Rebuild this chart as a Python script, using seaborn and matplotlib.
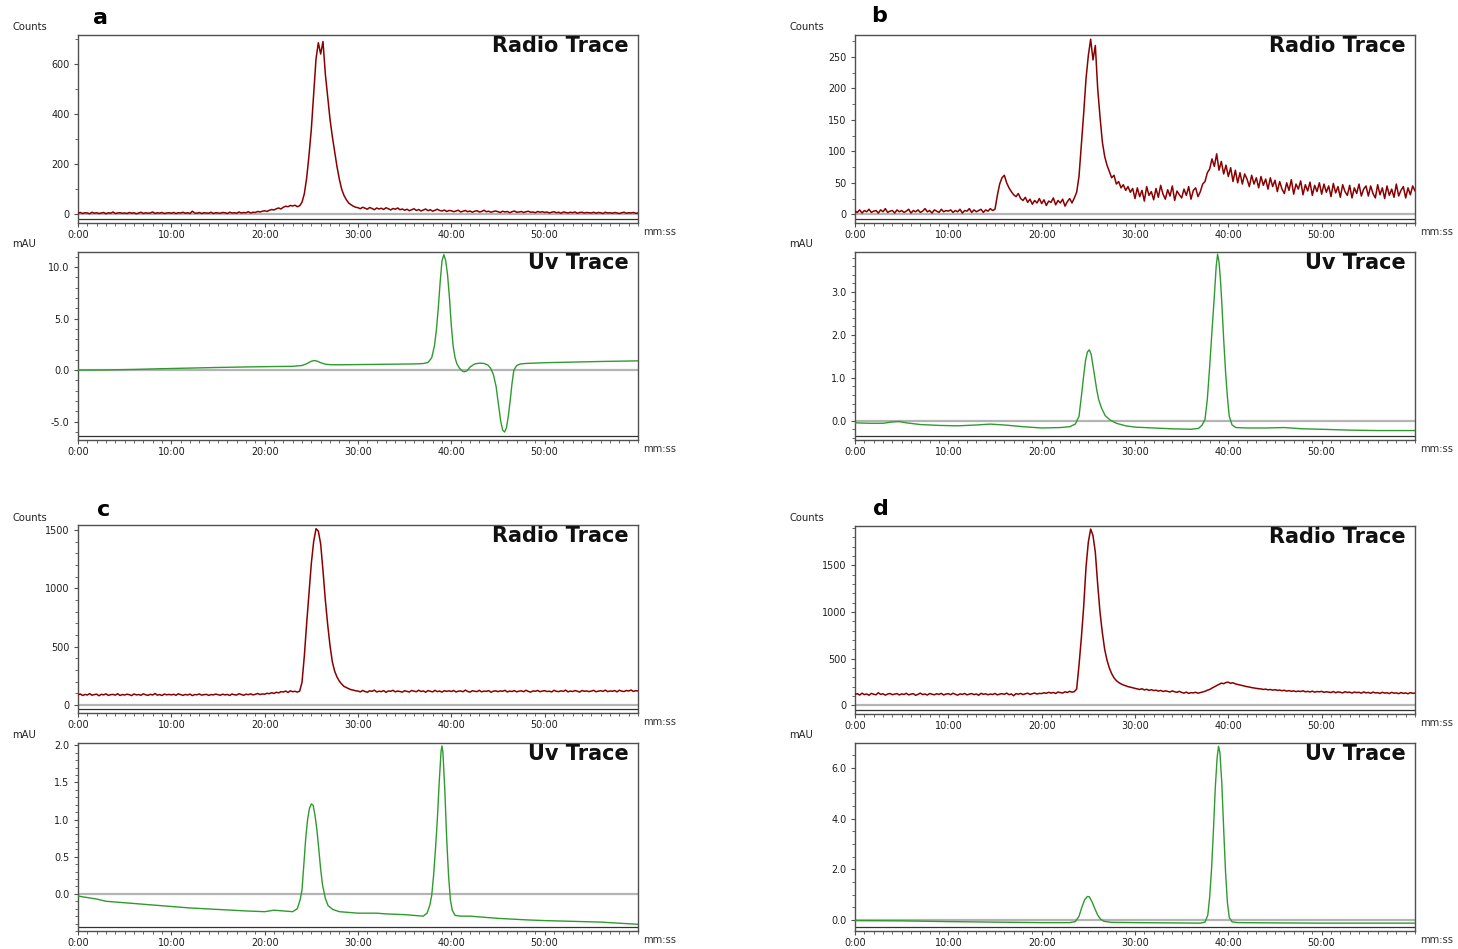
import numpy as np
import pandas as pd
import matplotlib
matplotlib.use("Agg")
import matplotlib.pyplot as plt
from matplotlib.ticker import MultipleLocator
import seaborn as sns

# ---------------------------------------------------------------------------
# Radio detector traces (counts), sampled every 0.25 min from 0:00 to 60:00
# ---------------------------------------------------------------------------
RADIO_STEP_MIN = 0.25

RADIO_A = [
    4, 7, 3, 6, 5, 2, 8, 4, 6, 3, 5, 7, 2, 6, 4, 9, 3, 5, 6, 4,
    5, 3, 7, 4, 6, 2, 5, 8, 3, 6, 4, 5, 9, 3, 6, 4, 7, 3, 5, 6,
    4, 7, 3, 6, 5, 8, 4, 6, 3, 12, 5, 4, 7, 3, 6, 5, 4, 8, 3, 6,
    5, 4, 7, 6, 3, 8, 5, 6, 4, 9, 5, 7, 6, 10, 5, 8, 7, 11, 9, 12,
    14, 11, 16, 19, 17, 22, 25, 21, 28, 32, 30, 35, 33, 36, 30, 34, 48, 82, 145, 235,
    340, 480, 620, 685, 640, 690, 560, 470, 380, 310, 250, 190, 140, 100, 75, 58, 45, 38, 32, 28,
    26, 22, 28, 24, 20, 27, 23, 18, 25, 21, 24, 19, 26, 22, 17, 23, 20, 25, 18, 21,
    16, 20, 14, 18, 22, 15, 19, 13, 17, 21, 14, 18, 12, 16, 20, 15, 13, 17, 11, 15,
    14, 10, 13, 16, 9, 12, 15, 10, 13, 8, 12, 14, 9, 11, 16, 10, 12, 8, 11, 13,
    10, 7, 12, 9, 11, 6, 10, 13, 8, 9, 11, 7, 10, 12, 8, 9, 6, 11, 8, 10,
    7, 9, 5, 8, 10, 6, 8, 4, 9, 7, 5, 8, 6, 9, 4, 7, 8, 5, 7, 6,
    5, 8, 4, 7, 6, 3, 8, 5, 6, 4, 7, 5, 3, 6, 8, 4, 6, 5, 7, 4,
    5,
]

RADIO_B = [
    5, 3, 7, 2, 6, 4, 8, 3, 5, 6, 2, 7, 4, 9, 3, 5, 6, 2, 7, 4,
    6, 3, 5, 8, 2, 6, 4, 7, 3, 5, 9, 4, 6, 2, 7, 5, 3, 8, 4, 6,
    5, 7, 3, 6, 4, 8, 2, 6, 5, 9, 3, 7, 4, 6, 8, 3, 7, 5, 9, 6,
    8, 30, 48, 58, 62, 50, 42, 36, 31, 28, 33, 25, 22, 27, 19, 24, 16, 22, 18, 25,
    17, 23, 14, 21, 19, 26, 15, 22, 18, 24, 13, 20, 25, 18, 26, 35, 60, 110, 160, 215,
    252, 278, 245, 268, 200, 155, 115, 92, 78, 68, 58, 62, 48, 52, 42, 47, 38, 44, 35, 41,
    25, 42, 28, 38, 21, 44, 30, 36, 23, 41, 27, 46, 32, 24, 39, 29, 45, 22, 37, 31,
    26, 40, 30, 44, 24, 38, 42, 28, 36, 48, 52, 66, 72, 88, 76, 96, 70, 84, 64, 78,
    60, 74, 52, 70, 50, 66, 48, 64, 56, 44, 62, 48, 58, 42, 60, 46, 56, 40, 58, 44,
    54, 36, 52, 40, 33, 50, 38, 55, 32, 48, 40, 53, 31, 47, 37, 51, 30, 46, 36, 50,
    32, 48, 35, 45, 28, 49, 34, 44, 27, 47, 36, 30, 46, 26, 42, 33, 48, 29, 40, 45,
    29, 45, 33, 26, 47, 31, 42, 25, 45, 30, 40, 27, 48, 29, 38, 44, 26, 42, 31, 45,
    37,
]

RADIO_C = [
    88, 95, 82, 91, 86, 98, 84, 90, 93, 80, 92, 87, 96, 83, 89, 91, 85, 97, 82, 90,
    86, 93, 89, 81, 95, 87, 90, 84, 96, 88, 83, 92, 86, 99, 85, 90, 82, 94, 88, 91,
    87, 92, 84, 96, 89, 83, 91, 86, 94, 81, 90, 88, 95, 85, 89, 92, 83, 90, 87, 94,
    89, 84, 93, 87, 91, 82, 95, 88, 86, 97, 90, 84, 93, 89, 96, 87, 92, 99, 90, 95,
    93, 101, 97, 106, 99, 110, 104, 115, 112, 120, 108, 122, 114, 118, 111, 119, 195, 420, 700, 960,
    1214, 1400, 1510, 1490, 1380, 1150, 900, 690, 510, 370, 290, 240, 205, 180, 160, 150, 140, 132, 128, 122,
    120, 113, 125, 116, 110, 122, 117, 128, 112, 119, 115, 124, 109, 121, 118, 126, 113, 120, 116, 111,
    123, 117, 112, 125, 119, 114, 127, 116, 121, 110, 124, 118, 113, 126, 115, 120, 111, 123, 117, 122,
    116, 125, 112, 119, 121, 114, 128, 117, 111, 123, 118, 115, 126, 113, 120, 117, 124, 110, 119, 122,
    115, 121, 118, 126, 112, 120, 116, 124, 113, 119, 122, 114, 127, 117, 111, 121, 118, 125, 114, 120,
    123, 116, 119, 112, 126, 118, 115, 122, 117, 128, 113, 120, 116, 124, 119, 111, 125, 118, 121, 115,
    120, 126, 114, 119, 123, 117, 128, 115, 121, 118, 124, 113, 127, 119, 116, 125, 120, 129, 117, 123,
    121,
]

RADIO_D = [
    118, 125, 110, 130, 115, 122, 108, 128, 119, 113, 135, 117, 124, 109, 121, 127, 114, 120, 126, 111,
    123, 116, 129, 112, 120, 125, 107, 118, 131, 115, 122, 110, 127, 119, 113, 124, 117, 128, 111, 121,
    125, 114, 130, 118, 109, 123, 117, 127, 112, 120, 126, 115, 122, 108, 129, 118, 124, 113, 121, 116,
    127, 112, 120, 125, 118, 131, 114, 122, 103, 126, 119, 128, 115, 124, 130, 117, 125, 132, 121, 128,
    126, 135, 129, 140, 131, 138, 127, 143, 136, 132, 145, 138, 150, 141, 147, 175, 430, 720, 1056, 1480,
    1750, 1890, 1820, 1640, 1300, 1000, 780, 600, 485, 400, 340, 295, 265, 245, 230, 218, 210, 200, 195, 188,
    182, 176, 170, 178, 165, 172, 160, 168, 158, 163, 152, 160, 148, 156, 150, 143, 155, 145, 140, 150,
    138, 131, 142, 128, 136, 133, 140, 130, 137, 144, 150, 162, 170, 185, 198, 212, 225, 238, 232, 245,
    248, 236, 242, 230, 224, 218, 212, 205, 200, 196, 190, 186, 182, 178, 176, 170, 174, 166, 170, 163,
    168, 160, 164, 156, 162, 152, 158, 150, 155, 147, 153, 148, 156, 145, 150, 143, 152, 141, 148, 145,
    150, 139, 146, 142, 137, 148, 135, 144, 140, 133, 146, 138, 142, 131, 143, 136, 140, 130, 144, 134,
    138, 129, 142, 133, 136, 127, 140, 131, 135, 126, 139, 130, 134, 125, 137, 128, 133, 124, 136, 129,
    131,
]

# ---------------------------------------------------------------------------
# UV detector traces (mAU): retention time (min) and absorbance
# ---------------------------------------------------------------------------
UV_A_T = [0, 3, 6, 9, 12, 15, 18, 21, 23, 24, 24.5, 25, 25.3, 25.6, 26, 26.5, 27, 28, 30, 33, 36,
          37, 37.5, 37.9, 38.2, 38.4, 38.6, 38.8, 39.0, 39.2, 39.4, 39.6, 39.8, 40.0, 40.2, 40.4,
          40.6, 40.9, 41.2, 41.4, 41.7, 42.0, 42.5, 43.0, 43.5, 43.9, 44.2, 44.5, 44.8, 45.0, 45.3,
          45.5, 45.7, 45.9, 46.1, 46.3, 46.5, 46.7, 47.0, 47.4, 48, 50, 53, 56, 60]
UV_A_V = [0.0, 0.02, 0.07, 0.14, 0.2, 0.26, 0.31, 0.35, 0.37, 0.45, 0.62, 0.86, 0.93, 0.88, 0.72, 0.58,
          0.53, 0.52, 0.54, 0.57, 0.6,
          0.64, 0.75, 1.2, 2.4, 3.9, 6.0, 8.5, 10.6, 11.2, 10.6, 9.2, 7.0, 4.3, 2.3, 1.2,
          0.6, 0.15, -0.1, -0.16, -0.05, 0.3, 0.6, 0.68, 0.65, 0.5, 0.2, -0.4, -1.6, -3.0, -5.0,
          -5.8, -6.0, -5.6, -4.5, -3.0, -1.3, 0.0, 0.45, 0.6, 0.65, 0.72, 0.78, 0.84, 0.9]

UV_B_T = [0, 1.5, 3, 4, 4.7, 5.5, 7, 9, 11, 13, 14.5, 16, 18, 20, 22, 23, 23.6, 24.0, 24.3, 24.5,
          24.7, 24.9, 25.1, 25.3, 25.5, 25.7, 25.9, 26.1, 26.4, 26.8, 27.3, 28, 29, 30, 32, 34, 36,
          36.8, 37.2, 37.5, 37.75, 38.0, 38.25, 38.5, 38.7, 38.85, 39.0, 39.15, 39.3, 39.5, 39.7,
          39.9, 40.1, 40.4, 40.8, 42, 44, 46, 48, 50, 53, 56, 60]
UV_B_V = [-0.05, -0.06, -0.06, -0.03, -0.02, -0.05, -0.09, -0.11, -0.12, -0.1, -0.08, -0.1, -0.14,
          -0.17, -0.16, -0.14, -0.08, 0.1, 0.65, 1.05,
          1.4, 1.6, 1.65, 1.55, 1.28, 1.0, 0.72, 0.5, 0.3, 0.12, 0.02, -0.06, -0.12, -0.15, -0.17,
          -0.19, -0.2,
          -0.18, -0.1, 0.03, 0.5, 1.26, 2.1, 2.9, 3.6, 3.88, 3.7, 3.3, 2.75, 1.9, 1.15,
          0.55, 0.1, -0.1, -0.16, -0.17, -0.17, -0.16, -0.19, -0.2, -0.22, -0.23, -0.23]

UV_C_T = [0, 0.5, 2, 3, 5, 7, 10, 12, 15, 18, 20, 21, 22, 23, 23.5, 23.8, 24.0, 24.2, 24.4, 24.6,
          24.8, 25.0, 25.2, 25.4, 25.6, 25.8, 26.0, 26.2, 26.5, 26.8, 27.3, 28, 30, 32, 33, 35, 37,
          37.4, 37.7, 37.9, 38.1, 38.3, 38.5, 38.7, 38.9, 39.0, 39.1, 39.3, 39.5, 39.7, 39.9, 40.1,
          40.4, 41, 42, 45, 48, 50, 53, 56, 60]
UV_C_V = [-0.03, -0.04, -0.07, -0.1, -0.12, -0.14, -0.17, -0.19, -0.21, -0.23, -0.24, -0.22, -0.23,
          -0.24, -0.2, -0.08, 0.05, 0.4, 0.75, 1.0,
          1.15, 1.21, 1.19, 1.05, 0.86, 0.6, 0.33, 0.12, -0.06, -0.16, -0.21, -0.24, -0.26, -0.26,
          -0.27, -0.28, -0.3,
          -0.26, -0.15, -0.02, 0.25, 0.6, 1.0, 1.5, 1.92, 1.99, 1.9, 1.4, 0.75, 0.25, -0.08, -0.22,
          -0.29, -0.3, -0.3, -0.33, -0.35, -0.36, -0.37, -0.38, -0.41]

UV_D_T = [0, 5, 10, 15, 20, 23, 23.6, 24.0, 24.3, 24.6, 24.9, 25.1, 25.4, 25.7, 26.0, 26.3, 26.7,
          27.5, 30, 34, 37, 37.5, 37.8, 38.0, 38.2, 38.4, 38.6, 38.8, 38.95, 39.1, 39.3, 39.5, 39.7,
          39.9, 40.1, 40.4, 41, 45, 50, 55, 60]
UV_D_V = [-0.02, -0.03, -0.06, -0.08, -0.1, -0.1, -0.06, 0.15, 0.5, 0.8, 0.93, 0.92, 0.72, 0.45,
          0.2, 0.04, -0.05,
          -0.09, -0.1, -0.11, -0.12, -0.08, 0.2, 0.9, 2.0, 3.5, 5.2, 6.4, 6.85, 6.6, 5.4, 3.6, 1.9,
          0.7, 0.1, -0.07, -0.1, -0.11, -0.12, -0.12, -0.12]

# Axis ticks and labels
X_TICKS = [0, 10, 20, 30, 40, 50]
X_TICK_LABELS = ["0:00", "10:00", "20:00", "30:00", "40:00", "50:00"]

RADIO_YTICKS = {"a": [0, 200, 400, 600], "b": [0, 50, 100, 150, 200, 250],
                "c": [0, 500, 1000, 1500], "d": [0, 500, 1000, 1500]}
UV_YTICKS = {"a": [-5, 0, 5, 10], "b": [0, 1, 2, 3],
             "c": [0, 0.5, 1.0, 1.5, 2.0], "d": [0, 2, 4, 6]}
UV_YTICK_LABELS = {"a": ["-5.0", "0.0", "5.0", "10.0"], "b": ["0.0", "1.0", "2.0", "3.0"],
                   "c": ["0.0", "0.5", "1.0", "1.5", "2.0"], "d": ["0.0", "2.0", "4.0", "6.0"]}

RADIO_TITLE = "Radio Trace"
UV_TITLE = "Uv Trace"

# ---------------------------------------------------------------------------
# Figure layout (pixel boxes: left, top, right, bottom) and axis ranges
# ---------------------------------------------------------------------------
W, H = 1458, 949
LAYOUT = {
    "a": {"radio": (78, 35, 638, 223), "uv": (78, 252, 638, 440),
          "letter": (93, 23.5), "counts": (12, 27), "mau": (12, 244)},
    "b": {"radio": (855, 35, 1415, 223), "uv": (855, 252, 1415, 440),
          "letter": (871, 22.5), "counts": (789, 27), "mau": (789, 244)},
    "c": {"radio": (78, 525, 638, 713), "uv": (78, 743, 638, 931),
          "letter": (97, 516.5), "counts": (12, 518), "mau": (12, 735)},
    "d": {"radio": (855, 526, 1415, 714), "uv": (855, 743, 1415, 931),
          "letter": (873, 515), "counts": (789, 518), "mau": (789, 735)},
}
RADIO_YLIM = {"a": (-35, 716), "b": (-13.8, 284.6), "c": (-68, 1542), "d": (-93, 1923)}
RADIO_MINOR = {"a": 100, "b": 25, "c": 100, "d": 100}
UV_YLIM = {"a": (-6.77, 11.45), "b": (-0.45, 3.93), "c": (-0.50, 2.03), "d": (-0.43, 6.98)}
UV_MINOR = {"a": 1.0, "b": 0.2, "c": 0.1, "d": 0.5}

RADIO_COLOR = "#8a0000"
UV_COLOR = "#2f9a2f"
FRAME_COLOR = "#505050"

sns.set_theme(style="ticks")
plt.rcParams["font.family"] = ["DejaVu Sans"]

fig = plt.figure(figsize=(W / 100, H / 100), dpi=100)


def make_axes(box):
    left, top, right, bottom = box
    return fig.add_axes([left / W, 1 - bottom / H, (right - left) / W, (bottom - top) / H])


def style_axes(ax, ylim, yticks, ylabels, yminor, title):
    ax.set_xlim(0, 60)
    ax.set_ylim(*ylim)
    ax.set_xticks(X_TICKS)
    ax.set_xticklabels(X_TICK_LABELS)
    ax.xaxis.set_minor_locator(MultipleLocator(1))
    ax.set_yticks(yticks)
    ax.set_yticklabels(ylabels)
    ax.yaxis.set_minor_locator(MultipleLocator(yminor))
    ax.tick_params(which="major", direction="out", length=3, width=0.8, color=FRAME_COLOR,
                   labelsize=6.9, labelcolor="#1e1e1e", pad=2)
    ax.tick_params(which="minor", direction="out", length=2, width=0.6, color=FRAME_COLOR)
    ax.tick_params(axis="x", top=False, which="both")
    ax.tick_params(axis="y", right=False, which="both", pad=3)
    for spine in ax.spines.values():
        spine.set_visible(True)
        spine.set_color(FRAME_COLOR)
        spine.set_linewidth(1.0)
    ax.set_xlabel("")
    ax.set_ylabel("")
    # zero baseline and the lower reference rule of the chromatogram frame
    ax.axhline(0, color="#b4b4b4", lw=1.6, zorder=1)
    frac = 4.5 / ax.bbox.height
    ax.plot([0, 1], [frac, frac], transform=ax.transAxes, color="#333333", lw=0.9, zorder=1)
    ax.annotate(title, xy=(1, 1), xycoords="axes fraction", xytext=(-9, -17),
                textcoords="offset pixels", ha="right", va="baseline",
                fontsize=15, fontweight="bold", color="#111111")
    ax.annotate("mm:ss", xy=(1, 0), xycoords="axes fraction", xytext=(5, -9),
                textcoords="offset pixels", ha="left", va="center",
                fontsize=7.2, color="#333333")


RADIO = {"a": RADIO_A, "b": RADIO_B, "c": RADIO_C, "d": RADIO_D}
UV = {"a": (UV_A_T, UV_A_V), "b": (UV_B_T, UV_B_V), "c": (UV_C_T, UV_C_V), "d": (UV_D_T, UV_D_V)}

for key in ["a", "b", "c", "d"]:
    lay = LAYOUT[key]

    counts = np.asarray(RADIO[key], dtype=float)
    radio_df = pd.DataFrame({"time": np.arange(len(counts)) * RADIO_STEP_MIN, "counts": counts})
    ax_r = make_axes(lay["radio"])
    sns.lineplot(data=radio_df, x="time", y="counts", ax=ax_r, color=RADIO_COLOR, lw=1.1,
                 estimator=None, errorbar=None, sort=False, zorder=3)
    style_axes(ax_r, RADIO_YLIM[key], RADIO_YTICKS[key], [str(v) for v in RADIO_YTICKS[key]],
               RADIO_MINOR[key], RADIO_TITLE)

    t_uv, v_uv = UV[key]
    uv_df = pd.DataFrame({"time": t_uv, "mAU": v_uv})
    ax_u = make_axes(lay["uv"])
    sns.lineplot(data=uv_df, x="time", y="mAU", ax=ax_u, color=UV_COLOR, lw=1.0,
                 estimator=None, errorbar=None, sort=False, zorder=3)
    style_axes(ax_u, UV_YLIM[key], UV_YTICKS[key], UV_YTICK_LABELS[key], UV_MINOR[key], UV_TITLE)

    lx, ly = lay["letter"]
    fig.text(lx / W, 1 - ly / H, key, fontsize=16, fontweight="bold", va="baseline", ha="left",
             color="#000000")
    cx, cy = lay["counts"]
    fig.text(cx / W, 1 - cy / H, "Counts", fontsize=7.2, va="center", ha="left", color="#222222")
    mx, my = lay["mau"]
    fig.text(mx / W, 1 - my / H, "mAU", fontsize=7.2, va="center", ha="left", color="#222222")

fig.savefig("out.png", dpi=100)
